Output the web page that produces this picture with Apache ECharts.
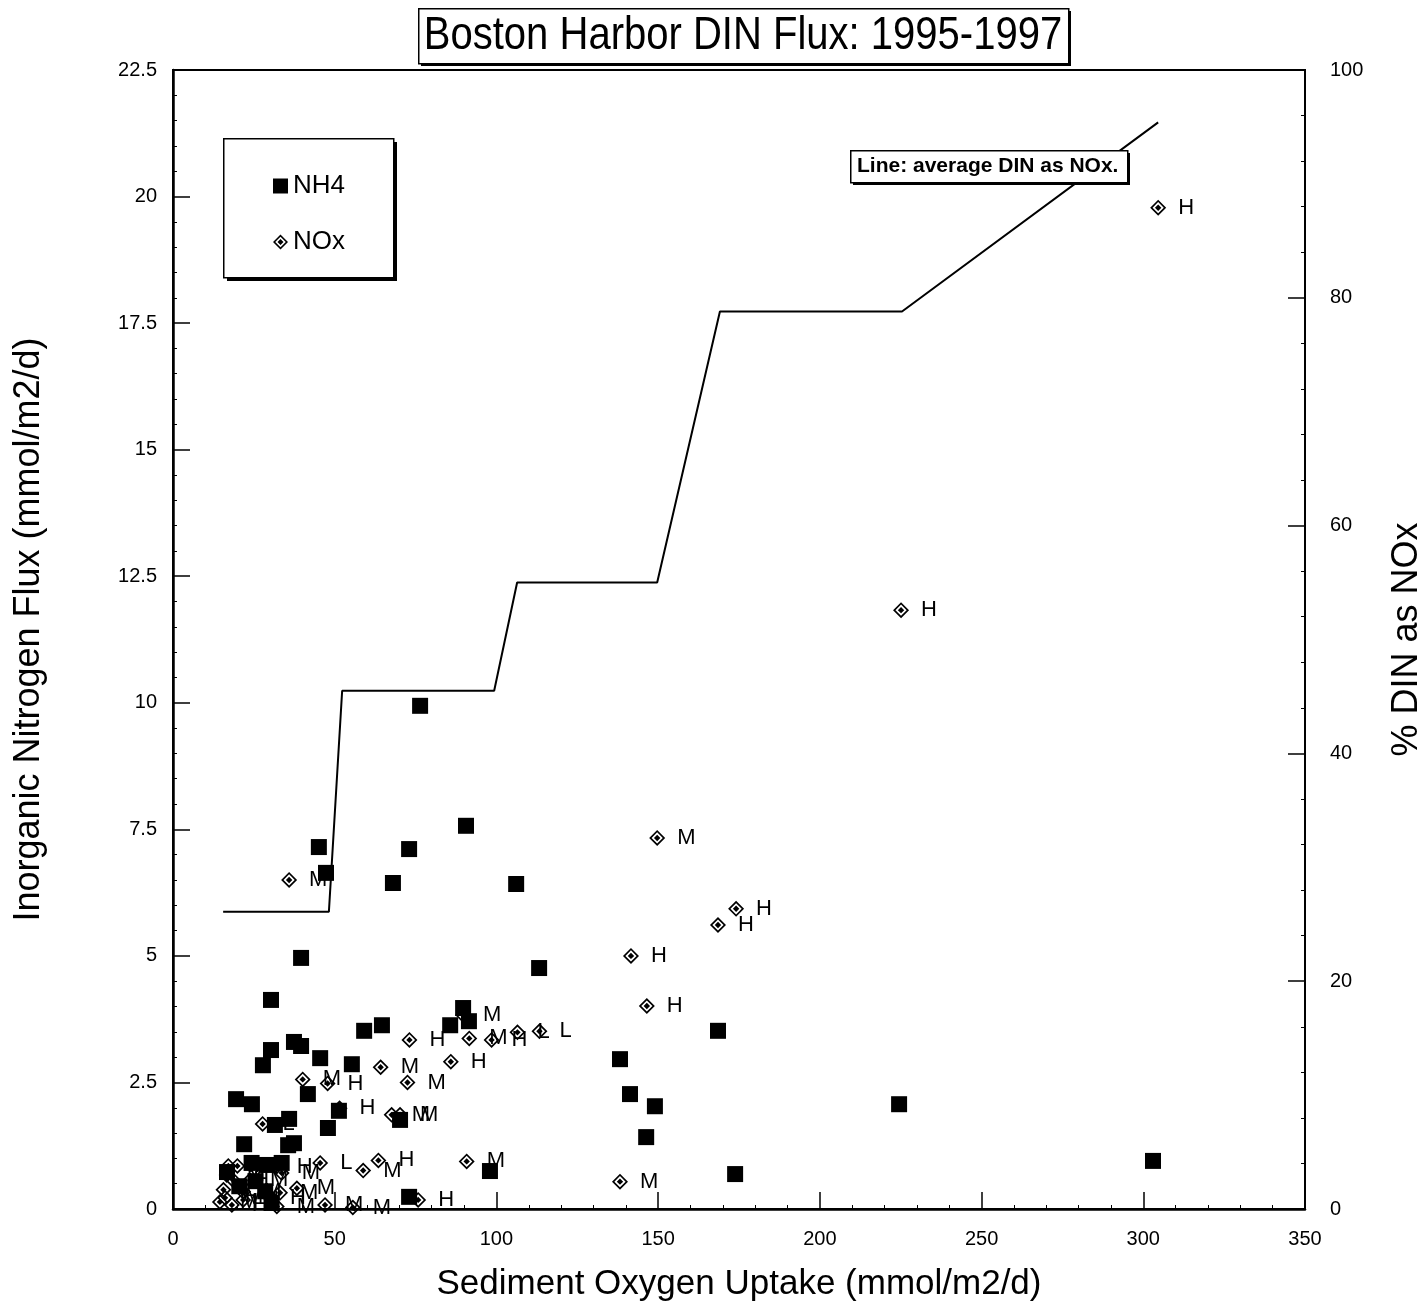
<!DOCTYPE html>
<html>
<head>
<meta charset="utf-8">
<script src="https://cdn.jsdelivr.net/npm/echarts@6/dist/echarts.min.js"></script>
<style>
html,body{margin:0;padding:0;background:#fff;}
#chart{width:1425px;height:1305px;}
</style>
</head>
<body>
<div id="chart"></div>
<script>
// ---- Data ----
var titleText = 'Boston Harbor DIN Flux: 1995-1997';
var xTitle = 'Sediment Oxygen Uptake (mmol/m2/d)';
var yLeftTitle = 'Inorganic Nitrogen Flux (mmol/m2/d)';
var yRightTitle = '% DIN as NOx';
var noteText = 'Line: average DIN as NOx.';

// NH4 flux: [sediment oxygen uptake, flux]
var nh4 = [
  [76.4,9.94],[90.6,7.57],[73.0,7.11],[45.1,7.15],[47.3,6.64],[68.0,6.44],[106.1,6.42],
  [39.6,4.96],[113.2,4.76],[30.3,4.13],[89.7,3.97],[91.5,3.71],[85.7,3.63],[64.6,3.63],
  [59.1,3.52],[168.5,3.52],[30.3,3.14],[37.4,3.30],[39.6,3.22],[45.5,2.98],[138.2,2.96],
  [55.3,2.86],[27.8,2.84],[41.7,2.27],[141.3,2.27],[19.5,2.17],[24.4,2.07],[149.0,2.03],
  [224.5,2.07],[51.3,1.94],[35.9,1.78],[47.9,1.60],[70.2,1.76],[31.5,1.66],[37.4,1.30],
  [35.6,1.26],[146.3,1.42],[22.0,1.28],[303.0,0.95],[16.7,0.73],[24.3,0.91],[29.0,0.87],
  [33.6,0.91],[98.0,0.75],[173.8,0.69],[73.0,0.24],[20.5,0.45],[28.5,0.35],[30.5,0.12],
  [25.5,0.55]
];

// NOx flux: [sediment oxygen uptake, flux, station class label]
var nox = [
  [304.6,19.78,'H'],[225.1,11.83,'H'],[149.7,7.33,'M'],[35.9,6.50,'M'],[174.1,5.93,'H'],
  [168.5,5.61,'H'],[141.6,5.00,'H'],[146.5,4.01,'H'],[89.7,3.83,'M'],[91.6,3.37,'M'],
  [98.5,3.34,'H'],[106.5,3.49,'L'],[113.3,3.51,'L'],[73.1,3.34,'H'],[85.9,2.91,'H'],
  [64.2,2.80,'M'],[40.1,2.56,'M'],[47.8,2.48,'H'],[72.5,2.50,'M'],[51.5,1.99,'H'],
  [67.6,1.86,'M'],[70.2,1.86,'M'],[27.7,1.68,'L'],[90.8,0.94,'M'],[138.2,0.54,'M'],
  [63.5,0.96,'H'],[58.8,0.76,'M'],[45.5,0.91,'L'],
  [17.1,0.85,'M'],[19.9,0.85,'H'],[16.6,0.67,'M'],[18.6,0.57,'H'],[15.6,0.38,'L'],
  [16.1,0.22,'M'],[18.2,0.08,'H'],[14.5,0.14,'M'],[21.7,0.34,'M'],[21.7,0.18,'H'],
  [23.8,0.57,'M'],[32.1,0.05,'M'],[30.0,0.22,'H'],[33.1,0.32,'M'],[33.6,0.71,'M'],
  [32.1,0.84,'H'],[38.3,0.41,'M'],[47.0,0.08,'M'],[55.6,0.03,'M'],[75.8,0.18,'H']
];

// Average % of DIN as NOx (right axis), step line
var pctLine = [
  [15.5,26.1],[48.2,26.1],[52.3,45.5],[99.3,45.5],[106.4,55.0],[149.7,55.0],
  [169.1,78.8],[225.4,78.8],[304.6,95.4]
];

var xMin = 0, xMax = 350, xStep = 50;
var yMin = 0, yMax = 22.5, yStep = 2.5;
var rMin = 0, rMax = 100, rStep = 20;

// ---- Chart ----
var FONT = "'Liberation Sans', Arial, sans-serif";
var diamondPath = 'path://M10,0 L20,10 L10,20 L0,10 Z M10,3 L3,10 L10,17 L17,10 Z M10,6 L14,10 L10,14 L6,10 Z';

var chart = echarts.init(document.getElementById('chart'), null, {renderer: 'canvas'});

var axisCommon = {
  axisLine: {show: true, lineStyle: {color: '#000', width: 2.5}},
  axisTick: {show: true, inside: true, length: 17, lineStyle: {color: '#000', width: 1.5}},
  minorTick: {show: true, splitNumber: 5, length: 4, lineStyle: {color: '#000', width: 1}},
  splitLine: {show: false},
  axisLabel: {color: '#000', fontSize: 20, fontFamily: FONT},
  nameTextStyle: {color: '#000', fontSize: 35, fontFamily: FONT}
};

var option = {
  backgroundColor: '#fff',
  animation: false,
  grid: {left: 173, right: 120, top: 70, bottom: 96, containLabel: false, outerBoundsMode: 'none',
    show: true, borderColor: '#000', borderWidth: 2, backgroundColor: 'transparent'},
  legend: {
    data: ['NH4', 'NOx'],
    orient: 'vertical',
    left: 268, top: 168,
    itemWidth: 15, itemHeight: 15, itemGap: 30,
    textStyle: {color: '#000', fontSize: 26, fontFamily: FONT},
    z: 120
  },
  xAxis: Object.assign({}, axisCommon, {
    type: 'value', min: xMin, max: xMax, interval: xStep,
    name: xTitle, nameLocation: 'middle', nameGap: 58,
    axisLabel: Object.assign({}, axisCommon.axisLabel, {margin: 20})
  }),
  yAxis: [
    Object.assign({}, axisCommon, {
      type: 'value', min: yMin, max: yMax, interval: yStep, position: 'left',
      name: yLeftTitle, nameLocation: 'middle', nameGap: 126, nameRotate: 90,
      nameTextStyle: {color: '#000', fontSize: 36, fontFamily: FONT, padding: [0, 0, 0, 20]},
      axisLabel: Object.assign({}, axisCommon.axisLabel, {margin: 16})
    }),
    Object.assign({}, axisCommon, {
      type: 'value', min: rMin, max: rMax, interval: rStep, position: 'right',
      name: yRightTitle, nameLocation: 'middle', nameGap: 84, nameRotate: 90,
      nameTextStyle: {color: '#000', fontSize: 36, fontFamily: FONT},
      axisLine: {show: true, lineStyle: {color: '#000', width: 2}},
      axisLabel: Object.assign({}, axisCommon.axisLabel, {margin: 25})
    })
  ],
  series: [
    {
      name: 'NH4', type: 'scatter', data: nh4,
      symbol: 'rect', symbolSize: 16,
      itemStyle: {color: '#000', opacity: 1}, z: 3
    },
    {
      name: 'NOx', type: 'scatter', data: nox,
      symbol: diamondPath, symbolSize: 16,
      itemStyle: {color: '#000', opacity: 1}, z: 4,
      label: {
        show: true, position: 'right', distance: 12,
        formatter: function (p) { return p.value[2]; },
        color: '#000', fontSize: 22, fontFamily: FONT
      }
    },
    {
      name: 'Line', type: 'line', yAxisIndex: 1, data: pctLine,
      symbol: 'none', lineStyle: {color: '#000', width: 2}, z: 5
    }
  ],
  graphic: [
    // title box
    {type: 'rect', left: 421, top: 11, shape: {width: 650, height: 55}, style: {fill: '#000'}, z: 100},
    {type: 'rect', left: 418, top: 8, shape: {width: 650, height: 55}, style: {fill: '#fff', stroke: '#000', lineWidth: 1.5}, z: 101},
    {type: 'text', x: 743, y: 36, scaleX: 0.87, z: 102,
      style: {text: titleText, fill: '#000', font: '46px ' + FONT, textAlign: 'center', textVerticalAlign: 'middle'}},
    // legend box
    {type: 'rect', left: 227, top: 142, shape: {width: 170, height: 139}, style: {fill: '#000'}, z: 100},
    {type: 'rect', left: 223, top: 138, shape: {width: 170, height: 139}, style: {fill: '#fff', stroke: '#000', lineWidth: 1.5}, z: 101},
    // note box
    {type: 'rect', left: 853, top: 153, shape: {width: 277, height: 32}, style: {fill: '#000'}, z: 100},
    {type: 'rect', left: 850, top: 150, shape: {width: 277, height: 32}, style: {fill: '#fff', stroke: '#000', lineWidth: 1.5}, z: 101},
    {type: 'text', x: 857, y: 166, z: 102,
      style: {text: noteText, fill: '#000', font: 'bold 21px ' + FONT, textAlign: 'left', textVerticalAlign: 'middle'}}
  ]
};

chart.setOption(option);
</script>
</body>
</html>
